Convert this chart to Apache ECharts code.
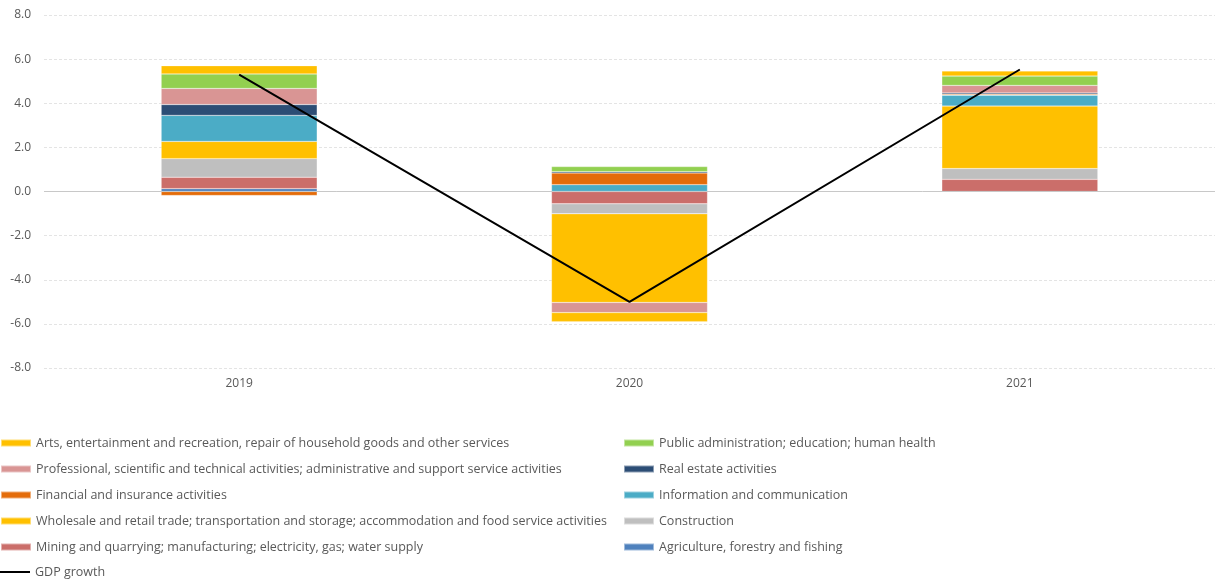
<!DOCTYPE html>
<html>
<head>
<meta charset="utf-8">
<script src="https://cdn.jsdelivr.net/npm/echarts@6/dist/echarts.min.js"></script>
<style>
  html, body { margin: 0; padding: 0; background: #fff; }
  #chart { width: 1215px; height: 583px; }
</style>
</head>
<body>
<div id="chart"></div>
<script>
// Contributions to GDP growth by economic activity (percentage points)
const years = ['2019', '2020', '2021'];

const agriculture   = [0.13, 0.00, 0.00];
const mining        = [0.52, -0.56, 0.55];
const construction  = [0.84, -0.45, 0.49];
const wholesale     = [0.78, -4.02, 2.83];
const information   = [1.18, 0.31, 0.49];
const financial     = [-0.18, 0.53, 0.05];
const realEstate    = [0.49, 0.06, 0.06];
const professional  = [0.73, -0.46, 0.34];
const publicAdmin   = [0.66, 0.23, 0.42];
const arts          = [0.37, -0.41, 0.23];
const gdpGrowth     = [5.30, -5.00, 5.53];

const yTicks = { min: -8, max: 8, step: 2 };

const NAMES = {
  agriculture: 'Agriculture, forestry and fishing',
  mining: 'Mining and quarrying; manufacturing; electricity, gas; water supply',
  construction: 'Construction',
  wholesale: 'Wholesale and retail trade; transportation and storage; accommodation and food service activities',
  information: 'Information and communication',
  financial: 'Financial and insurance activities',
  realEstate: 'Real estate activities',
  professional: 'Professional, scientific and technical activities; administrative and support service activities',
  publicAdmin: 'Public administration; education; human health',
  arts: 'Arts, entertainment and recreation, repair of household goods and other services',
  gdp: 'GDP growth'
};

const FONT = 'Open Sans';
const TEXT_COLOR = '#595959';

function bar(name, data, color) {
  return {
    name: name,
    type: 'bar',
    stack: 'total',
    data: data,
    barWidth: 156,
    itemStyle: { color: color, borderColor: 'rgba(255,255,255,0.45)', borderWidth: 0.5 },
    emphasis: { disabled: true }
  };
}

const series = [
  bar(NAMES.agriculture, agriculture, '#4F81BD'),
  bar(NAMES.mining, mining, '#CB6E6A'),
  bar(NAMES.construction, construction, '#BFBFBF'),
  bar(NAMES.wholesale, wholesale, '#FFC000'),
  bar(NAMES.information, information, '#4BACC6'),
  bar(NAMES.financial, financial, '#E46C0A'),
  bar(NAMES.realEstate, realEstate, '#2C4D75'),
  bar(NAMES.professional, professional, '#D99594'),
  bar(NAMES.publicAdmin, publicAdmin, '#92D050'),
  bar(NAMES.arts, arts, '#FFC000'),
  {
    name: NAMES.gdp,
    type: 'line',
    data: gdpGrowth,
    symbol: 'none',
    lineStyle: { color: '#000', width: 2 },
    itemStyle: { color: '#000' },
    z: 5,
    markLine: {
      silent: true,
      symbol: 'none',
      label: { show: false },
      lineStyle: { color: '#c8c8c8', type: 'solid', width: 1 },
      data: [{ yAxis: 0 }],
      z: 4
    }
  }
];

const legendCommon = {
  orient: 'vertical',
  itemWidth: 30,
  itemHeight: 7,
  itemGap: 12,
  padding: 0,
  icon: 'rect',
  selectedMode: false,
  textStyle: { fontFamily: FONT, fontSize: 12.5, color: TEXT_COLOR, lineHeight: 14 }
};

const chart = echarts.init(document.getElementById('chart'), null, { renderer: 'canvas' });
chart.setOption({
  animation: false,
  backgroundColor: '#ffffff',
  grid: { left: 44, right: 0, top: 15, bottom: 215, containLabel: false },
  xAxis: {
    type: 'category',
    data: years,
    axisLine: { show: false },
    axisTick: { show: false },
    axisLabel: { fontFamily: FONT, fontSize: 12, color: TEXT_COLOR, margin: 10 }
  },
  yAxis: {
    type: 'value',
    min: yTicks.min,
    max: yTicks.max,
    interval: yTicks.step,
    axisLine: { show: false },
    axisTick: { show: false },
    axisLabel: {
      fontFamily: FONT, fontSize: 12, color: TEXT_COLOR, margin: 13,
      formatter: v => v.toFixed(1)
    },
    splitLine: { lineStyle: { color: '#e4e4e4', type: [3, 2], width: 1 } }
  },
  legend: [
    Object.assign({}, legendCommon, {
      left: 0, top: 436,
      data: [NAMES.arts, NAMES.professional, NAMES.financial, NAMES.wholesale, NAMES.mining]
    }),
    Object.assign({}, legendCommon, {
      left: 0, top: 565, itemHeight: 2,
      data: [NAMES.gdp]
    }),
    Object.assign({}, legendCommon, {
      left: 623, top: 436,
      data: [NAMES.publicAdmin, NAMES.realEstate, NAMES.information, NAMES.construction, NAMES.agriculture]
    })
  ],
  series: series
});
</script>
</body>
</html>
